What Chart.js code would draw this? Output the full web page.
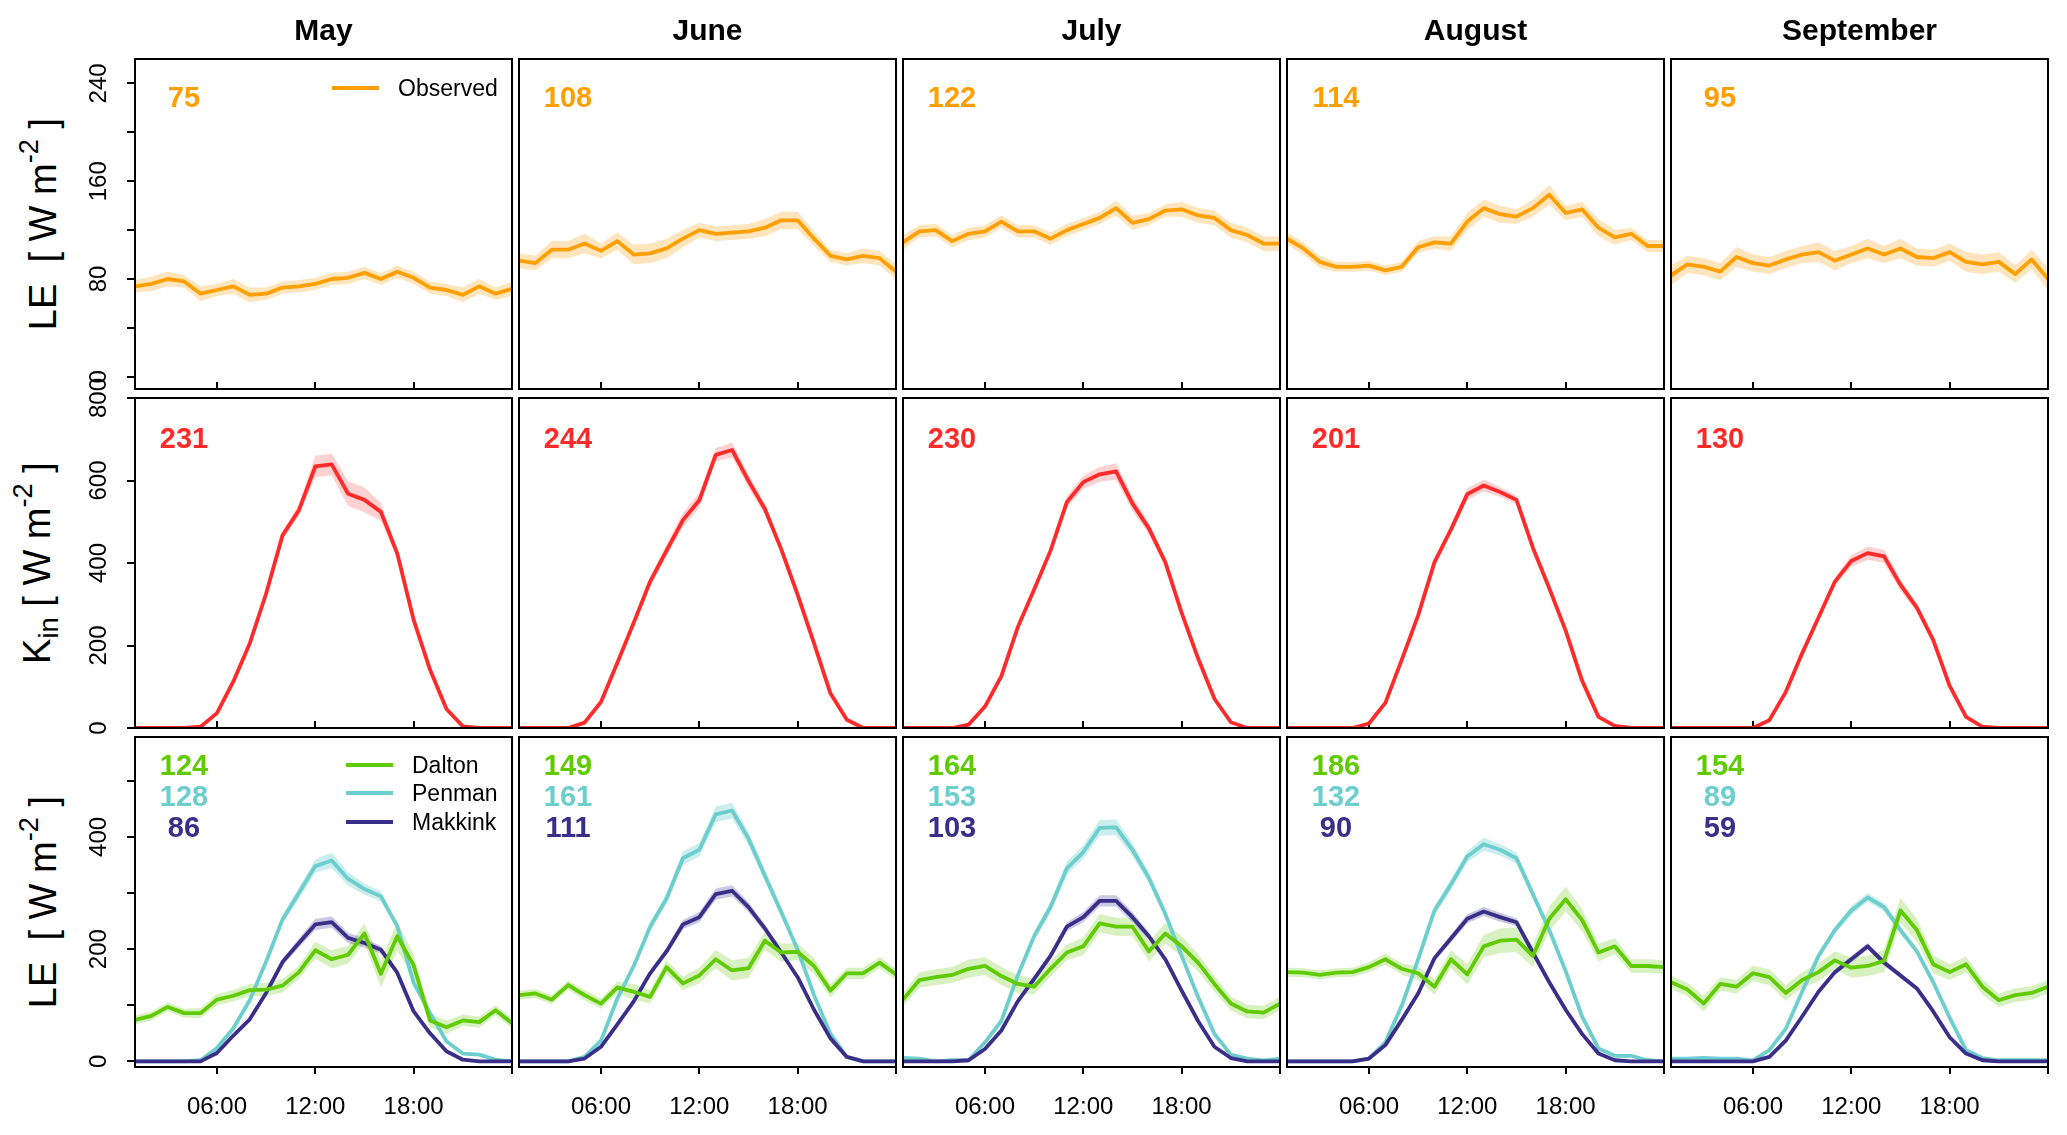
<!DOCTYPE html>
<html><head><meta charset="utf-8">
<script src="https://cdn.jsdelivr.net/npm/chart.js@4.4.1/dist/chart.umd.min.js"></script>
<style>
html,body{margin:0;padding:0;background:#fff;}
#wrap{position:relative;width:2067px;height:1135px;overflow:hidden;font-family:"Liberation Sans",Arial,sans-serif;color:#000;}
#wrap canvas{position:absolute;}
.title{position:absolute;font-weight:bold;font-size:30px;line-height:30px;text-align:center;white-space:nowrap;}
.ytitle{position:absolute;white-space:nowrap;font-size:38px;line-height:40px;transform:translate(-50%,-50%) rotate(-90deg);}
.ytitle sup{font-size:0.72em;position:relative;top:-0.15em;}
.ytitle sub{font-size:0.72em;}
.num{position:absolute;font-weight:bold;font-size:29px;line-height:29px;transform:translate(-50%,-50%);white-space:nowrap;}
.leg{position:absolute;font-size:23px;line-height:23px;transform:translateY(-50%);white-space:nowrap;}
.legline{position:absolute;height:4px;transform:translateY(-50%);}
</style></head><body><div id="wrap"></div>
<script>
// ---------------- DATA ----------------
const months = ['May', 'June', 'July', 'August', 'September'];
const hours = [1,2,3,4,5,6,7,8,9,10,11,12,13,14,15,16,17,18,19,20,21,22,23,24];
const xTicks = [6, 12, 18, 24];
const xTickLabels = ['06:00', '12:00', '18:00', ''];
const leObsTicks = [0, 40, 80, 120, 160, 200, 240];
const leObsTickLabels = ['0', '', '80', '', '160', '', '240'];
const kinTicks = [0, 200, 400, 600, 800];
const kinTickLabels = ['0', '200', '400', '600', '800'];
const leModTicks = [0, 100, 200, 300, 400, 500];
const leModTickLabels = ['0', '', '200', '', '400', ''];

// monthly means shown in panels
const obsMean = [75, 108, 122, 114, 95];
const kinMean = [231, 244, 230, 201, 130];
const daltonMean = [124, 149, 164, 186, 154];
const penmanMean = [128, 161, 153, 132, 89];
const makkinkMean = [86, 111, 103, 90, 59];

// Observed LE
const obsMay = [74,76,80,78,68,71,74,67,68,73,74,76,80,81,85,80,86,81,73,71,67,74,68,72];
const obsJun = [95,93,104,104,109,103,111,100,101,105,113,120,117,118,119,122,128,128,113,99,96,99,97,86];
const obsJul = [110,119,120,111,117,119,127,119,119,113,120,125,130,138,126,129,136,137,132,130,120,116,109,109];
const obsAug = [113,105,94,90,90,91,87,90,106,110,109,127,138,133,131,138,149,134,137,122,114,117,107,107];
const obsSep = [83,92,90,86,98,93,91,96,100,102,95,100,105,100,105,98,97,102,94,92,94,84,96,80];
const obsSprMay = [5,6,6,5,6,5,6,6,5,5,5,5,5,5,5,5,5,5,5,5,6,6,5,6];
const obsSprJun = [6,6,7,7,8,6,7,8,8,8,7,6,6,6,6,7,7,7,6,5,5,6,6,6];
const obsSprJul = [6,5,5,5,5,5,5,5,5,5,5,5,5,6,6,5,5,6,6,6,6,6,6,6];
const obsSprAug = [5,5,5,4,4,4,4,4,5,5,6,7,7,7,6,7,8,6,6,7,6,5,5,5];
const obsSprSep = [8,7,7,7,8,7,7,7,7,8,8,7,8,7,8,7,7,7,8,8,8,7,8,9];

// Incoming shortwave radiation
const kinMay = [0,0,0,0,3,36,113,205,326,467,528,634,639,568,553,524,423,262,141,46,4,0,0,0];
const kinJun = [0,0,0,0,13,63,158,255,355,430,504,552,662,674,599,531,433,323,205,84,20,0,0,0];
const kinJul = [0,0,0,0,8,52,126,244,336,430,548,596,615,622,544,484,402,279,169,71,14,0,0,0];
const kinAug = [0,0,0,0,0,11,61,165,273,402,481,567,588,572,553,437,339,236,115,27,5,0,0,0];
const kinSep = [0,0,0,0,0,0,19,87,181,268,355,405,424,416,347,292,213,102,27,3,0,0,0,0];
const kinSprMay = [0,0,0,0,1,3,5,6,8,10,14,26,26,30,30,22,10,6,4,2,1,0,0,0];
const kinSprJun = [0,0,0,0,1,3,5,8,12,14,18,18,16,18,16,14,10,8,5,3,1,0,0,0];
const kinSprJul = [0,0,0,0,1,2,4,6,8,10,14,16,18,20,18,14,10,6,4,2,1,0,0,0];
const kinSprAug = [0,0,0,0,0,1,3,5,6,8,10,14,14,12,10,8,6,5,3,2,1,0,0,0];
const kinSprSep = [0,0,0,0,0,0,2,4,6,8,10,14,16,16,14,10,8,5,3,1,0,0,0,0];

// Dalton modelled LE
const dalMay = [74,81,97,86,86,110,117,127,128,135,159,198,182,190,228,156,223,171,73,61,73,70,91,68];
const dalJun = [118,121,110,136,118,103,132,124,115,168,139,153,182,162,166,215,194,195,170,126,157,157,176,155];
const dalJul = [110,145,150,154,165,170,152,138,133,165,194,205,246,240,240,196,228,205,176,138,103,89,87,103];
const dalAug = [159,158,154,158,159,168,182,165,157,133,182,155,205,215,217,188,254,289,252,194,205,170,170,168];
const dalSep = [141,128,103,138,133,157,150,122,145,159,180,167,170,179,269,234,173,159,173,133,109,118,122,133];
const dalSprMay = [8,8,8,8,9,10,10,11,12,12,12,15,16,16,18,24,26,20,12,12,10,10,9,9];
const dalSprJun = [8,8,8,8,9,9,10,14,12,12,12,14,16,18,18,16,16,15,14,12,10,10,10,10];
const dalSprJul = [12,14,14,14,16,16,16,16,14,14,14,16,16,16,16,18,18,18,16,14,12,12,12,12];
const dalSprAug = [8,8,8,8,8,9,10,10,12,14,16,18,20,22,22,20,22,22,20,16,14,12,12,12];
const dalSprSep = [12,12,14,12,12,14,14,14,14,16,16,18,18,20,22,20,16,14,14,14,12,12,12,12];

// Penman modelled LE
const penMay = [0,0,0,0,2,24,59,109,178,253,300,348,358,325,307,294,241,140,86,36,14,12,3,0];
const penJun = [0,0,0,0,8,37,112,170,240,290,362,377,440,447,397,331,266,199,118,49,8,0,0,0];
const penJul = [6,5,0,2,2,34,72,153,223,275,344,373,416,417,377,327,263,188,115,49,12,5,2,5];
const penAug = [0,0,0,0,0,5,34,99,182,269,315,365,387,377,362,298,234,161,80,23,10,10,2,0];
const penSep = [5,5,6,5,5,2,20,58,124,188,234,269,292,275,234,196,141,78,20,6,2,2,2,2];
const penSprMay = [1,1,1,1,1,2,3,5,6,8,10,12,14,12,10,9,6,5,4,3,2,1,1,1];
const penSprJun = [1,1,1,1,1,2,4,6,8,10,12,12,14,14,12,10,8,6,4,3,2,1,1,1];
const penSprJul = [1,1,1,1,1,2,4,6,8,10,12,12,14,14,12,10,8,6,4,3,2,1,1,1];
const penSprAug = [1,1,1,1,1,2,3,5,6,8,10,10,12,10,10,8,6,5,4,3,2,1,1,1];
const penSprSep = [1,1,1,1,1,1,2,4,5,6,7,8,8,8,7,6,5,4,3,2,1,1,1,1];

// Makkink modelled LE
const makMay = [0,0,0,0,0,15,46,75,122,177,211,244,248,220,211,199,158,89,50,18,3,0,0,0];
const makJun = [0,0,0,0,5,26,66,107,157,196,244,257,298,304,275,237,194,150,92,41,8,0,0,0];
const makJul = [0,0,0,0,2,22,55,107,147,188,240,257,286,286,257,223,182,126,72,26,6,0,0,0];
const makAug = [0,0,0,0,0,5,29,74,121,184,219,254,267,257,248,194,141,92,49,14,2,0,0,0];
const makSep = [0,0,0,0,0,0,8,37,80,124,159,182,205,176,153,130,89,43,14,2,0,0,0,0];
const makSprMay = [0,0,0,0,0,1,2,3,5,6,8,10,10,9,8,7,5,3,2,1,1,0,0,0];
const makSprJun = [0,0,0,0,1,1,2,3,5,7,8,9,10,10,9,7,5,4,3,2,1,0,0,0];
const makSprJul = [0,0,0,0,1,1,2,3,5,7,8,9,10,10,9,7,5,4,3,2,1,0,0,0];
const makSprAug = [0,0,0,0,0,1,2,3,4,6,7,8,8,8,7,6,5,3,2,1,1,0,0,0];
const makSprSep = [0,0,0,0,0,0,1,2,3,4,5,6,6,6,5,4,3,2,1,1,0,0,0,0];

// ---------------- STYLE / LAYOUT ----------------
const COL_X = [135, 519, 903, 1287, 1671];
const ROW_Y = [59, 398, 737];
const PW = 377, PH = 330;
const PADL = 62, PADR = 28, PADT = 32, PADB = 58;
const C = {
  obs: '#FF9F00', obsBand: 'rgba(255,170,40,0.30)',
  kin: '#FF2A2A', kinBand: 'rgba(255,70,70,0.25)',
  dal: '#5FCB00', dalBand: 'rgba(110,205,30,0.28)',
  pen: '#6DCECE', penBand: 'rgba(110,205,205,0.35)',
  mak: '#3A2F88', makBand: 'rgba(70,60,150,0.28)'
};
const FONT = '"Liberation Sans", Arial, sans-serif';
Chart.defaults.font.family = FONT;
Chart.defaults.color = '#000';

const obsByMonth = [obsMay, obsJun, obsJul, obsAug, obsSep];
const obsSprByMonth = [obsSprMay, obsSprJun, obsSprJul, obsSprAug, obsSprSep];
const kinByMonth = [kinMay, kinJun, kinJul, kinAug, kinSep];
const kinSprByMonth = [kinSprMay, kinSprJun, kinSprJul, kinSprAug, kinSprSep];
const dalByMonth = [dalMay, dalJun, dalJul, dalAug, dalSep];
const dalSprByMonth = [dalSprMay, dalSprJun, dalSprJul, dalSprAug, dalSprSep];
const penByMonth = [penMay, penJun, penJul, penAug, penSep];
const penSprByMonth = [penSprMay, penSprJun, penSprJul, penSprAug, penSprSep];
const makByMonth = [makMay, makJun, makJul, makAug, makSep];
const makSprByMonth = [makSprMay, makSprJun, makSprJul, makSprAug, makSprSep];

function pts(vals, f) { return hours.map((h, i) => ({x: h, y: f(vals[i], i)})); }
function bandSets(mean, spr, fillColor, order) {
  return [
    {data: pts(mean, (v, i) => v + spr[i]), borderColor: 'rgba(0,0,0,0)', borderWidth: 1, pointRadius: 0, fill: false, order: order},
    {data: pts(mean, (v, i) => v - spr[i]), borderColor: 'rgba(0,0,0,0)', borderWidth: 1, pointRadius: 0, fill: '-1', backgroundColor: fillColor, order: order}
  ];
}
function lineSet(mean, color, order) {
  return {data: pts(mean, v => v), borderColor: color, borderWidth: 3.8, pointRadius: 0, fill: false, tension: 0, order: order, borderJoinStyle: 'round'};
}

const boxPlugin = {
  id: 'panelBox',
  afterDraw(chart) {
    const {ctx, chartArea: a} = chart;
    ctx.save();
    ctx.strokeStyle = '#000';
    ctx.lineWidth = 2;
    ctx.strokeRect(a.left, a.top, a.right - a.left, a.bottom - a.top);
    ctx.restore();
  }
};

const rowY = [
  {min: -10, max: 260, ticks: leObsTicks, labels: leObsTickLabels},
  {min: 0, max: 800, ticks: kinTicks, labels: kinTickLabels},
  {min: -10, max: 578, ticks: leModTicks, labels: leModTickLabels}
];

const wrap = document.getElementById('wrap');

function makePanel(col, row, datasets) {
  const cv = document.createElement('canvas');
  const w = PW + PADL + PADR, h = PH + PADT + PADB;
  cv.width = w; cv.height = h;
  cv.style.left = (COL_X[col] - PADL) + 'px';
  cv.style.top = (ROW_Y[row] - PADT) + 'px';
  cv.style.width = w + 'px'; cv.style.height = h + 'px';
  wrap.appendChild(cv);
  const yc = rowY[row];
  const showY = col === 0;
  new Chart(cv, {
    type: 'line',
    data: {datasets: datasets},
    plugins: [boxPlugin],
    options: {
      responsive: false, animation: false, devicePixelRatio: 1,
      layout: {padding: {left: 0, right: PADR, top: PADT, bottom: 0}},
      plugins: {legend: {display: false}, tooltip: {enabled: false}},
      scales: {
        x: {
          type: 'linear', min: 1, max: 24, position: 'bottom',
          afterBuildTicks: s => { s.ticks = xTicks.map(v => ({value: v})); },
          afterFit: s => { s.height = PADB; },
          border: {display: false},
          grid: {drawOnChartArea: false, drawTicks: true, tickLength: row === 2 ? 7 : -7, color: '#000', lineWidth: 2},
          ticks: {display: row === 2, autoSkip: false, minRotation: 0, maxRotation: 0, padding: 19,
                  font: {size: 24, family: FONT}, color: '#000',
                  callback: (v, i) => xTickLabels[i]}
        },
        y: {
          type: 'linear', min: yc.min, max: yc.max, position: 'left', display: showY,
          afterBuildTicks: s => { s.ticks = yc.ticks.map(v => ({value: v})); },
          afterFit: s => { s.width = PADL; },
          border: {display: false},
          grid: {drawOnChartArea: false, drawTicks: true, tickLength: 8, color: '#000', lineWidth: 2},
          ticks: {autoSkip: false, minRotation: 90, maxRotation: 90, crossAlign: 'center', padding: 8,
                  font: {size: 24, family: FONT}, color: '#000',
                  callback: (v, i) => yc.labels[i]}
        }
      }
    }
  });
}

function addDiv(cls, html, left, top, color) {
  const d = document.createElement('div');
  d.className = cls;
  d.innerHTML = html;
  d.style.left = left + 'px';
  d.style.top = top + 'px';
  if (color) d.style.color = color;
  wrap.appendChild(d);
  return d;
}

for (let m = 0; m < 5; m++) {
  makePanel(m, 0, [
    lineSet(obsByMonth[m], C.obs, 0),
    ...bandSets(obsByMonth[m], obsSprByMonth[m], C.obsBand, 1)
  ]);
  makePanel(m, 1, [
    lineSet(kinByMonth[m], C.kin, 0),
    ...bandSets(kinByMonth[m], kinSprByMonth[m], C.kinBand, 1)
  ]);
  makePanel(m, 2, [
    lineSet(dalByMonth[m], C.dal, 0),
    lineSet(makByMonth[m], C.mak, 1),
    lineSet(penByMonth[m], C.pen, 2),
    ...bandSets(penByMonth[m], penSprByMonth[m], C.penBand, 3),
    ...bandSets(makByMonth[m], makSprByMonth[m], C.makBand, 3),
    ...bandSets(dalByMonth[m], dalSprByMonth[m], C.dalBand, 3)
  ]);

  const t = addDiv('title', months[m], COL_X[m], 15);
  t.style.width = PW + 'px';

  const cx = COL_X[m] + 49;
  addDiv('num', String(obsMean[m]), cx, ROW_Y[0] + 38, C.obs);
  addDiv('num', String(kinMean[m]), cx, ROW_Y[1] + 40, C.kin);
  addDiv('num', String(daltonMean[m]), cx, ROW_Y[2] + 28, C.dal);
  addDiv('num', String(penmanMean[m]), cx, ROW_Y[2] + 59, C.pen);
  addDiv('num', String(makkinkMean[m]), cx, ROW_Y[2] + 90, C.mak);
}

addDiv('ytitle', 'LE&nbsp;&nbsp;[ W m<sup>-2</sup> ]', 38, ROW_Y[0] + PH / 2);
addDiv('ytitle', 'K<sub>in</sub>&nbsp;[ W m<sup>-2</sup> ]', 38, ROW_Y[1] + PH / 2);
addDiv('ytitle', 'LE&nbsp;&nbsp;[ W m<sup>-2</sup> ]', 38, ROW_Y[2] + PH / 2);

function legendEntry(row, label, color, lineL, textL, dy) {
  const l = addDiv('legline', '', COL_X[0] + lineL, ROW_Y[row] + dy);
  l.style.width = '47px';
  l.style.background = color;
  addDiv('leg', label, COL_X[0] + textL, ROW_Y[row] + dy);
}
legendEntry(0, 'Observed', C.obs, 197, 263, 29);
legendEntry(2, 'Dalton', C.dal, 211, 277, 28);
legendEntry(2, 'Penman', C.pen, 211, 277, 56);
legendEntry(2, 'Makkink', C.mak, 211, 277, 85);
</script>
</body></html>
